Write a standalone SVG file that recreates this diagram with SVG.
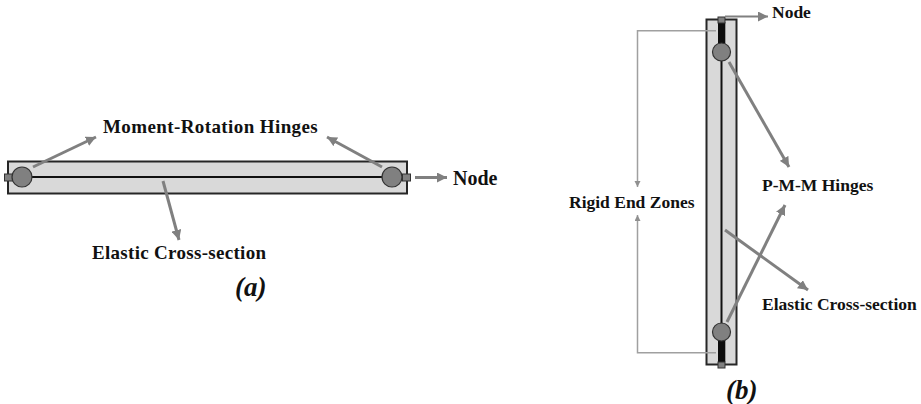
<svg xmlns="http://www.w3.org/2000/svg" width="921" height="404" viewBox="0 0 921 404">
<style>
.t{font-family:"Liberation Serif","Times New Roman",serif;font-weight:bold;font-size:19px;fill:#111}
.s{font-size:17.500px}
.cap{font-family:"Liberation Serif","Times New Roman",serif;font-weight:bold;font-style:italic;font-size:27px;fill:#111}
.ar{fill:none;stroke:#808080;stroke-width:3}
.ar2{fill:none;stroke:#808080;stroke-width:2}
.thin{fill:none;stroke:#a0a0a0;stroke-width:1.500}
.beam{fill:#d9d9d9;stroke:#262626;stroke-width:2}
.core{stroke:#111;stroke-width:2;fill:none}
.hinge{fill:#808080;stroke:#333;stroke-width:1.200}
.nd{fill:#808080;stroke:#333;stroke-width:1}
.rigid{fill:#0d0d0d}
</style>
<defs>
<marker id="ah" markerUnits="userSpaceOnUse" markerWidth="12" markerHeight="10" refX="10" refY="5" orient="auto"><path d="M0,0 L10,5 L0,10 Z" fill="#808080"/></marker>
<marker id="ahs" markerUnits="userSpaceOnUse" markerWidth="8" markerHeight="8" refX="6" refY="3" orient="auto"><path d="M0,0 L6,3 L0,6 Z" fill="#909090"/></marker>
</defs>
<g id="beam-a">
<rect class="beam" x="8" y="161.500" width="399" height="32"/>
<line class="core" x1="22" y1="177" x2="392" y2="177"/>
</g>
<g id="node-a-left"><rect class="nd" x="4.500" y="174" width="8" height="7"/></g>
<g id="node-a-right"><rect class="nd" x="402.500" y="174" width="8" height="7"/></g>
<g id="hinge-a-left"><circle class="hinge" cx="22" cy="177" r="10"/></g>
<g id="hinge-a-right"><circle class="hinge" cx="392" cy="177" r="10"/></g>
<g id="beam-b">
<rect class="beam" x="706.500" y="19.500" width="30" height="345"/>
<rect class="rigid" x="718" y="22" width="7.300" height="26"/>
<rect class="rigid" x="718" y="338" width="7.300" height="24"/>
<line class="core" x1="721.500" y1="50" x2="721.500" y2="335"/>
</g>
<g id="node-b-top"><rect class="nd" x="718" y="17" width="7" height="6"/></g>
<g id="node-b-bottom"><rect class="nd" x="718" y="362" width="7" height="6"/></g>
<g id="hinge-b-top"><circle class="hinge" cx="721.500" cy="52" r="9"/></g>
<g id="hinge-b-bottom"><circle class="hinge" cx="721.500" cy="332" r="9"/></g>
<g id="connectors">
<line class="ar" x1="33" y1="167" x2="96" y2="137" marker-end="url(#ah)"/>
<line class="ar" x1="382" y1="167" x2="327" y2="137" marker-end="url(#ah)"/>
<line class="ar" x1="415" y1="177.500" x2="447" y2="177.500" marker-end="url(#ah)"/>
<line class="ar" x1="163" y1="181" x2="179" y2="240" marker-end="url(#ah)"/>
<line class="ar2" x1="725" y1="16.500" x2="768" y2="16.500" marker-end="url(#ah)"/>
<line class="ar" x1="729" y1="62" x2="789" y2="167" marker-end="url(#ah)"/>
<line class="ar" x1="727" y1="322" x2="785" y2="205" marker-end="url(#ah)"/>
<line class="ar" x1="725" y1="230" x2="808" y2="290" marker-end="url(#ah)"/>
<polyline class="thin" points="716,30.700 637.500,30.700 637.500,187" marker-end="url(#ahs)"/>
<polyline class="thin" points="716,352.700 637.500,352.700 637.500,215" marker-end="url(#ahs)"/>
</g>
<text class="t" x="103" y="132.500" letter-spacing="0.400">Moment-Rotation Hinges</text>
<text class="t" x="453" y="184.500" style="font-size:20px">Node</text>
<text class="t" x="92" y="259" letter-spacing="0.300">Elastic Cross-section</text>
<text class="cap" x="235" y="296">(a)</text>
<text class="t s" x="772" y="17.500">Node</text>
<text class="t s" x="569" y="207.500">Rigid End Zones</text>
<text class="t s" x="762" y="191">P-M-M Hinges</text>
<text class="t s" x="762" y="310">Elastic Cross-section</text>
<text class="cap" x="726" y="399">(b)</text>
</svg>
